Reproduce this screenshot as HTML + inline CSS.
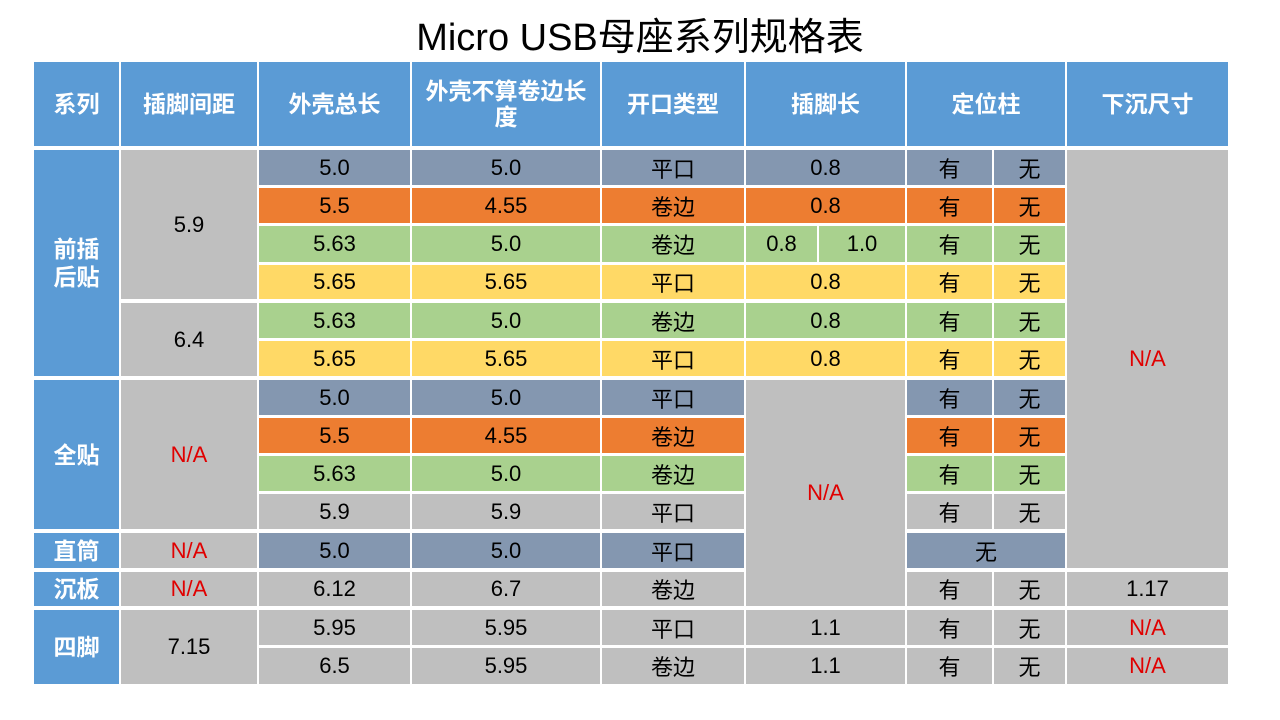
<!DOCTYPE html>
<html><head><meta charset="utf-8"><style>
body{margin:0;width:1280px;height:720px;background:#fff;position:relative;overflow:hidden;font-family:"Liberation Sans","Noto Sans CJK SC",sans-serif}
.t{position:absolute;left:0;width:1280px;top:6px;text-align:center;font-size:38px;color:#000}
.c{position:absolute;display:flex;align-items:center;justify-content:center;font-size:22px;color:#000;text-align:center;box-sizing:border-box}
.h{background:#5B9BD5;color:#fff;font-weight:bold;font-size:23px;line-height:26px}
.s{background:#5B9BD5;color:#fff;font-weight:bold;font-size:23px;line-height:28px}
.b{background:#8497B0}.o{background:#ED7D31}.g{background:#A9D18E}.y{background:#FFD966}.e{background:#BFBFBF}
.r{color:#E00000}
</style></head><body>
<div class="t">Micro USB母座系列规格表</div>

<div class="c h" style="left:34px;top:62px;width:85px;height:84px">系列</div>
<div class="c h" style="left:121px;top:62px;width:136px;height:84px">插脚间距</div>
<div class="c h" style="left:259px;top:62px;width:151px;height:84px">外壳总长</div>
<div class="c h" style="left:412px;top:62px;width:188px;height:84px">外壳不算卷边长<br>度</div>
<div class="c h" style="left:602px;top:62px;width:142px;height:84px">开口类型</div>
<div class="c h" style="left:746px;top:62px;width:159px;height:84px">插脚长</div>
<div class="c h" style="left:907px;top:62px;width:158px;height:84px">定位柱</div>
<div class="c h" style="left:1067px;top:62px;width:161px;height:84px">下沉尺寸</div>

<div class="c s" style="left:34px;top:150px;width:85px;height:226px">前插<br>后贴</div>
<div class="c s" style="left:34px;top:380px;width:85px;height:149px">全贴</div>
<div class="c s" style="left:34px;top:533px;width:85px;height:35px">直筒</div>
<div class="c s" style="left:34px;top:572px;width:85px;height:34px">沉板</div>
<div class="c s" style="left:34px;top:610px;width:85px;height:74px">四脚</div>

<div class="c e" style="left:121px;top:150px;width:136px;height:149px">5.9</div>
<div class="c e" style="left:121px;top:303px;width:136px;height:73px">6.4</div>
<div class="c e r" style="left:121px;top:380px;width:136px;height:149px">N/A</div>
<div class="c e r" style="left:121px;top:533px;width:136px;height:35px">N/A</div>
<div class="c e r" style="left:121px;top:572px;width:136px;height:34px">N/A</div>
<div class="c e" style="left:121px;top:610px;width:136px;height:74px">7.15</div>

<div class="c b" style="left:259px;top:150px;width:151px;height:35px">5.0</div>
<div class="c b" style="left:412px;top:150px;width:188px;height:35px">5.0</div>
<div class="c b" style="left:602px;top:150px;width:142px;height:35px">平口</div>
<div class="c b" style="left:746px;top:150px;width:159px;height:35px">0.8</div>
<div class="c b" style="left:907px;top:150px;width:85px;height:35px">有</div>
<div class="c b" style="left:994px;top:150px;width:71px;height:35px">无</div>

<div class="c o" style="left:259px;top:188px;width:151px;height:35px">5.5</div>
<div class="c o" style="left:412px;top:188px;width:188px;height:35px">4.55</div>
<div class="c o" style="left:602px;top:188px;width:142px;height:35px">卷边</div>
<div class="c o" style="left:746px;top:188px;width:159px;height:35px">0.8</div>
<div class="c o" style="left:907px;top:188px;width:85px;height:35px">有</div>
<div class="c o" style="left:994px;top:188px;width:71px;height:35px">无</div>

<div class="c g" style="left:259px;top:226px;width:151px;height:36px">5.63</div>
<div class="c g" style="left:412px;top:226px;width:188px;height:36px">5.0</div>
<div class="c g" style="left:602px;top:226px;width:142px;height:36px">卷边</div>
<div class="c g" style="left:746px;top:226px;width:71px;height:36px">0.8</div>
<div class="c g" style="left:819px;top:226px;width:86px;height:36px">1.0</div>
<div class="c g" style="left:907px;top:226px;width:85px;height:36px">有</div>
<div class="c g" style="left:994px;top:226px;width:71px;height:36px">无</div>

<div class="c y" style="left:259px;top:265px;width:151px;height:34px">5.65</div>
<div class="c y" style="left:412px;top:265px;width:188px;height:34px">5.65</div>
<div class="c y" style="left:602px;top:265px;width:142px;height:34px">平口</div>
<div class="c y" style="left:746px;top:265px;width:159px;height:34px">0.8</div>
<div class="c y" style="left:907px;top:265px;width:85px;height:34px">有</div>
<div class="c y" style="left:994px;top:265px;width:71px;height:34px">无</div>

<div class="c g" style="left:259px;top:303px;width:151px;height:35px">5.63</div>
<div class="c g" style="left:412px;top:303px;width:188px;height:35px">5.0</div>
<div class="c g" style="left:602px;top:303px;width:142px;height:35px">卷边</div>
<div class="c g" style="left:746px;top:303px;width:159px;height:35px">0.8</div>
<div class="c g" style="left:907px;top:303px;width:85px;height:35px">有</div>
<div class="c g" style="left:994px;top:303px;width:71px;height:35px">无</div>

<div class="c y" style="left:259px;top:341px;width:151px;height:35px">5.65</div>
<div class="c y" style="left:412px;top:341px;width:188px;height:35px">5.65</div>
<div class="c y" style="left:602px;top:341px;width:142px;height:35px">平口</div>
<div class="c y" style="left:746px;top:341px;width:159px;height:35px">0.8</div>
<div class="c y" style="left:907px;top:341px;width:85px;height:35px">有</div>
<div class="c y" style="left:994px;top:341px;width:71px;height:35px">无</div>

<div class="c b" style="left:259px;top:380px;width:151px;height:35px">5.0</div>
<div class="c b" style="left:412px;top:380px;width:188px;height:35px">5.0</div>
<div class="c b" style="left:602px;top:380px;width:142px;height:35px">平口</div>
<div class="c b" style="left:907px;top:380px;width:85px;height:35px">有</div>
<div class="c b" style="left:994px;top:380px;width:71px;height:35px">无</div>

<div class="c o" style="left:259px;top:418px;width:151px;height:35px">5.5</div>
<div class="c o" style="left:412px;top:418px;width:188px;height:35px">4.55</div>
<div class="c o" style="left:602px;top:418px;width:142px;height:35px">卷边</div>
<div class="c o" style="left:907px;top:418px;width:85px;height:35px">有</div>
<div class="c o" style="left:994px;top:418px;width:71px;height:35px">无</div>

<div class="c g" style="left:259px;top:456px;width:151px;height:35px">5.63</div>
<div class="c g" style="left:412px;top:456px;width:188px;height:35px">5.0</div>
<div class="c g" style="left:602px;top:456px;width:142px;height:35px">卷边</div>
<div class="c g" style="left:907px;top:456px;width:85px;height:35px">有</div>
<div class="c g" style="left:994px;top:456px;width:71px;height:35px">无</div>

<div class="c e" style="left:259px;top:494px;width:151px;height:35px">5.9</div>
<div class="c e" style="left:412px;top:494px;width:188px;height:35px">5.9</div>
<div class="c e" style="left:602px;top:494px;width:142px;height:35px">平口</div>
<div class="c e" style="left:907px;top:494px;width:85px;height:35px">有</div>
<div class="c e" style="left:994px;top:494px;width:71px;height:35px">无</div>

<div class="c b" style="left:259px;top:533px;width:151px;height:35px">5.0</div>
<div class="c b" style="left:412px;top:533px;width:188px;height:35px">5.0</div>
<div class="c b" style="left:602px;top:533px;width:142px;height:35px">平口</div>
<div class="c b" style="left:907px;top:533px;width:158px;height:35px">无</div>

<div class="c e" style="left:259px;top:572px;width:151px;height:34px">6.12</div>
<div class="c e" style="left:412px;top:572px;width:188px;height:34px">6.7</div>
<div class="c e" style="left:602px;top:572px;width:142px;height:34px">卷边</div>
<div class="c e" style="left:907px;top:572px;width:85px;height:34px">有</div>
<div class="c e" style="left:994px;top:572px;width:71px;height:34px">无</div>
<div class="c e" style="left:1067px;top:572px;width:161px;height:34px">1.17</div>

<div class="c e r" style="left:746px;top:380px;width:159px;height:226px">N/A</div>
<div class="c e r" style="left:1067px;top:150px;width:161px;height:418px">N/A</div>

<div class="c e" style="left:259px;top:610px;width:151px;height:35px">5.95</div>
<div class="c e" style="left:412px;top:610px;width:188px;height:35px">5.95</div>
<div class="c e" style="left:602px;top:610px;width:142px;height:35px">平口</div>
<div class="c e" style="left:746px;top:610px;width:159px;height:35px">1.1</div>
<div class="c e" style="left:907px;top:610px;width:85px;height:35px">有</div>
<div class="c e" style="left:994px;top:610px;width:71px;height:35px">无</div>
<div class="c e r" style="left:1067px;top:610px;width:161px;height:35px">N/A</div>

<div class="c e" style="left:259px;top:648px;width:151px;height:36px">6.5</div>
<div class="c e" style="left:412px;top:648px;width:188px;height:36px">5.95</div>
<div class="c e" style="left:602px;top:648px;width:142px;height:36px">卷边</div>
<div class="c e" style="left:746px;top:648px;width:159px;height:36px">1.1</div>
<div class="c e" style="left:907px;top:648px;width:85px;height:36px">有</div>
<div class="c e" style="left:994px;top:648px;width:71px;height:36px">无</div>
<div class="c e r" style="left:1067px;top:648px;width:161px;height:36px">N/A</div>
</body></html>
